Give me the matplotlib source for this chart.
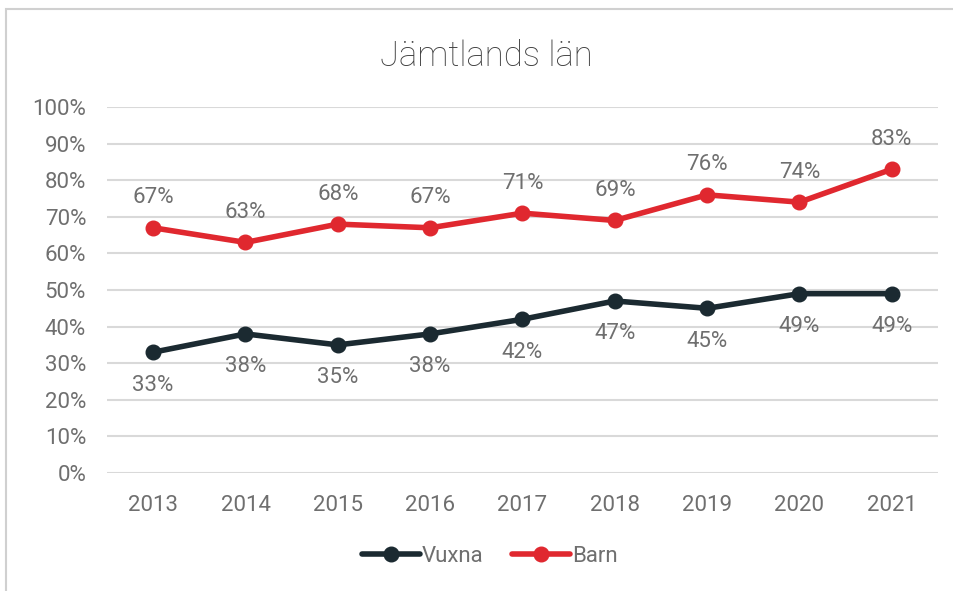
import matplotlib
matplotlib.use("Agg")
import matplotlib.pyplot as plt
from matplotlib.patches import Rectangle

years = ["2013", "2014", "2015", "2016", "2017", "2018", "2019", "2020", "2021"]
vuxna = [33, 38, 35, 38, 42, 47, 45, 49, 49]
barn = [67, 63, 68, 67, 71, 69, 76, 74, 83]
yticks = [0, 10, 20, 30, 40, 50, 60, 70, 80, 90, 100]
title = "Jämtlands län"

plt.rcParams['font.family'] = ['Roboto', 'DejaVu Sans']
txt = '#6f6f6f'
c_vux = '#1b2a31'
c_barn = '#e0282f'
fs = 16

fig = plt.figure(figsize=(9.54, 5.91), dpi=100)
fig.patches.append(Rectangle((6/954, -0.01), 1.0, 1 - 9/591 + 0.01, transform=fig.transFigure,
                             fill=False, edgecolor='#d0d0d0', linewidth=1.5, zorder=0))
ax = fig.add_axes([107/954, 1 - 473/591, (938 - 107)/954, (473 - 107)/591])

x = list(range(len(years)))
ax.plot(x, vuxna, color=c_vux, lw=4, marker='o', ms=10.5, label='Vuxna', zorder=3,
        solid_capstyle='round')
ax.plot(x, barn, color=c_barn, lw=4, marker='o', ms=10.5, label='Barn', zorder=3,
        solid_capstyle='round')

for xi, v in zip(x, vuxna):
    ax.annotate(f"{v}%", (xi, v), xytext=(0, -33), textcoords='offset pixels',
                ha='center', va='center', fontsize=fs, color=txt)
for xi, v in zip(x, barn):
    ax.annotate(f"{v}%", (xi, v), xytext=(0, 30), textcoords='offset pixels',
                ha='center', va='center', fontsize=fs, color=txt)

ax.set_xlim(-0.5, len(years) - 0.5)
ax.set_ylim(0, 100)
ax.set_yticks(yticks)
ax.set_yticklabels([f"{t}%" for t in yticks])
ax.set_xticks(x)
ax.set_xticklabels(years)
ax.tick_params(axis='both', length=0, labelsize=fs, labelcolor=txt)
ax.tick_params(axis='y', pad=15)
ax.tick_params(axis='x', pad=16)
ax.grid(axis='y', color='#d9d9d9', lw=1.5)
ax.set_axisbelow(True)
for s in ax.spines.values():
    s.set_visible(False)

fig.text(486/954, 1 - 56/591, title, ha='center', va='center', fontsize=25,
         color='#404040', fontweight='light')

leg = fig.legend(loc='center', bbox_to_anchor=(490/954, 1 - 556/591), ncol=2,
                 frameon=False, prop={'size': fs}, handlelength=2.6,
                 columnspacing=1.3, handletextpad=0.1, labelcolor=txt)

fig.savefig("out.png", dpi=100)
